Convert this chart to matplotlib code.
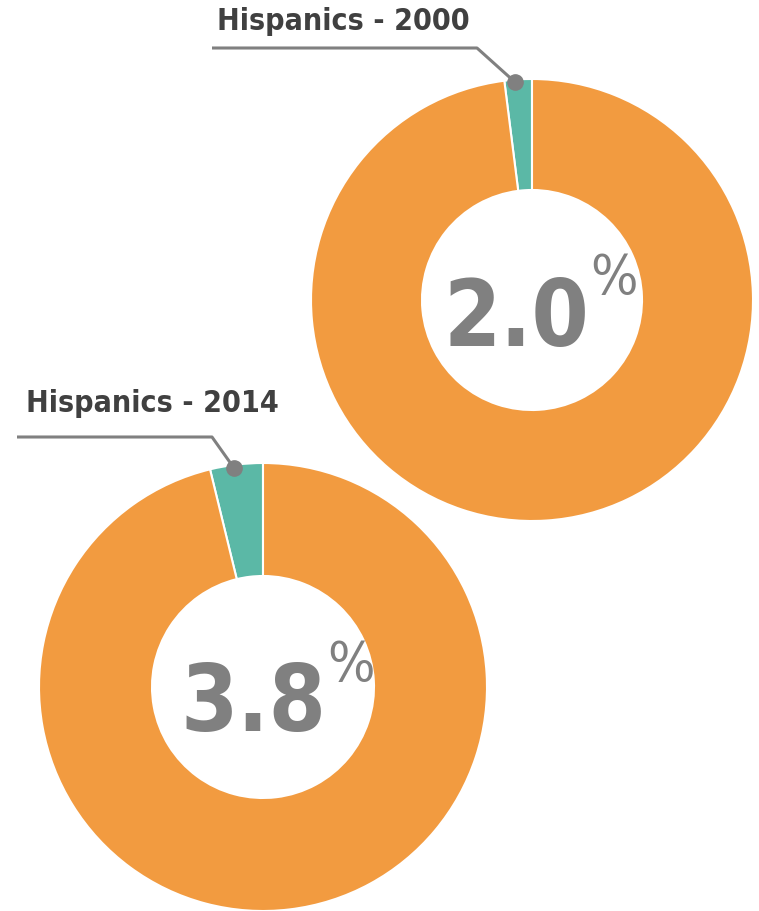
import matplotlib
matplotlib.use("Agg")
import matplotlib.pyplot as plt
from matplotlib import font_manager as fm
import numpy as np

# ---- data ----
labels = ["Hispanics - 2000", "Hispanics - 2014"]
hispanic_share = [2.0, 3.8]
center_text = ["2.0", "3.8"]

TEAL = "#5BB8A6"
ORANGE = "#F29B40"
GRAY = "#808080"
DARK = "#404040"

# ---- pick a condensed bold font ----
def pick_font():
    names = {f.name: f for f in fm.fontManager.ttflist}
    for f in fm.fontManager.ttflist:
        if f.name == "Liberation Sans Narrow" and f.weight in (700, "bold"):
            return dict(family="Liberation Sans Narrow", weight="bold")
    for f in fm.fontManager.ttflist:
        if f.name == "DejaVu Sans" and ("condensed" in str(f.stretch).lower() or "Condensed" in f.fname):
            return dict(family="DejaVu Sans", weight="bold", stretch="condensed")
    for cand in ["Roboto Condensed", "Open Sans Condensed", "Noto Sans Condensed"]:
        if cand in names:
            return dict(family=cand, weight="bold")
    return dict(family="Roboto", weight="bold")

FONT = pick_font()

W, H = 759, 911
fig = plt.figure(figsize=(W / 100, H / 100), dpi=100)
ax = fig.add_axes([0, 0, 1, 1])
ax.set_xlim(0, W)
ax.set_ylim(0, H)
ax.set_aspect("equal")
ax.axis("off")

# geometry (pixel coordinates, y up)
centers = [(532, H - 300), (263, H - 687)]
radii = [221, 224]
widths = [111, 113]
label_pos = [(217, H - 22), (26, H - 404)]
leader_start = [(212, H - 48), (17, H - 437)]
leader_knee = [(477, H - 48), (212, H - 437)]
num_pos = [(443, H - 346), (180, H - 731)]
pct_top = [H - 252, H - 639]

for i in range(2):
    vals = [hispanic_share[i], 100 - hispanic_share[i]]
    ax.pie(vals, colors=[TEAL, ORANGE], startangle=90, counterclock=True,
           center=centers[i], radius=radii[i],
           wedgeprops=dict(width=widths[i], edgecolor="white", linewidth=1.5),
           frame=True)
    # leader dot at outer edge, mid-angle of hispanic wedge
    mid = np.deg2rad(90 + hispanic_share[i] / 100 * 360 / 2)
    dx = centers[i][0] + (radii[i] - 3) * np.cos(mid) - 3
    dy = centers[i][1] + (radii[i] - 3) * np.sin(mid)
    ax.plot([leader_start[i][0], leader_knee[i][0], dx],
            [leader_start[i][1], leader_knee[i][1], dy],
            color=GRAY, lw=2.2, solid_capstyle="butt", zorder=5)
    ax.plot(dx, dy, "o", color=GRAY, ms=11, zorder=6)
    ax.text(label_pos[i][0], label_pos[i][1], labels[i], color=DARK,
            fontsize=21.8, ha="left", va="center", zorder=7, **FONT)
    t = ax.text(num_pos[i][0], num_pos[i][1], center_text[i], color=GRAY,
                fontsize=66, ha="left", va="baseline", zorder=7, **FONT)
    fig.canvas.draw()
    bb = t.get_window_extent()
    ax.text(bb.x1 + 1, pct_top[i], "%", color=GRAY,
            fontsize=40, ha="left", va="top", zorder=7,
            **dict(FONT, weight="normal"))

ax.set_xlim(0, W)
ax.set_ylim(0, H)
fig.savefig("out.png", dpi=100, facecolor="white")
